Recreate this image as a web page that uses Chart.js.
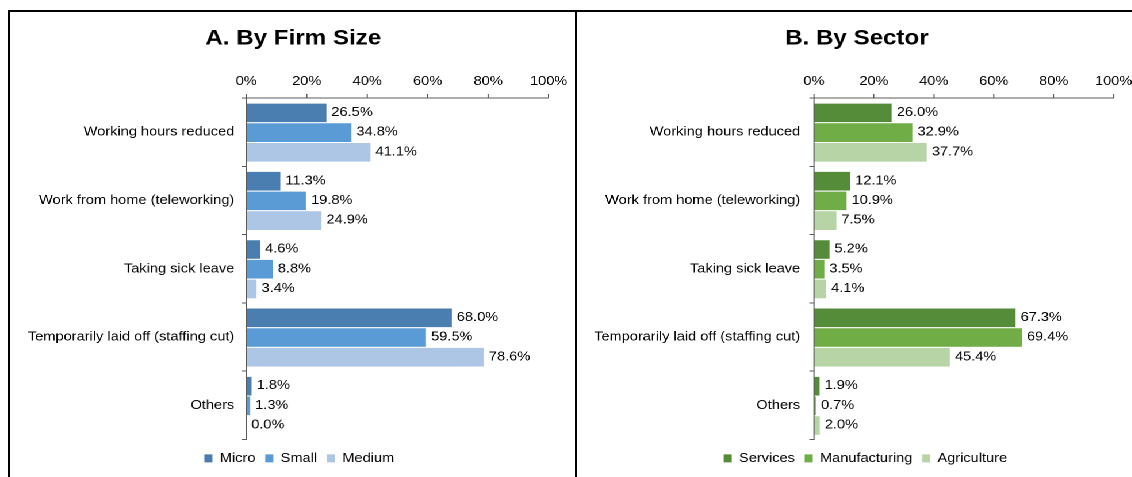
<!DOCTYPE html>
<html><head><meta charset="utf-8">
<script src="https://cdn.jsdelivr.net/npm/chart.js@4.4.0/dist/chart.umd.min.js"></script>
<style>
html,body{margin:0;padding:0;background:#fff;overflow:hidden;}
#stage{position:absolute;left:0;top:0;width:1132px;height:477px;background:#fff;overflow:hidden;}
#wrap{position:absolute;left:0;top:0;height:477px;transform-origin:0 0;}
.panel{position:absolute;top:0;height:477px;}
.line{position:absolute;background:#000;z-index:5;}
</style></head><body>
<div id="stage">
 <div id="wrap">
  <div class="panel" id="pA"><canvas id="cA"></canvas></div>
  <div class="panel" id="pB"><canvas id="cB"></canvas></div>
 </div>
 <div class="line" style="left:9px;top:10px;width:1123px;height:2px"></div>
 <div class="line" style="left:8px;top:10px;width:2px;height:467px"></div>
 <div class="line" style="left:575px;top:10px;width:2px;height:467px"></div>
</div>
<script>
// ---- data ----
const categories = ["Working hours reduced", "Work from home (teleworking)", "Taking sick leave", "Temporarily laid off (staffing cut)", "Others"];
const xTickValues = [0, 20, 40, 60, 80, 100];

const sizeSeriesNames = ["Micro", "Small", "Medium"];
const microValues  = [26.5, 11.3, 4.6, 68.0, 1.8];
const smallValues  = [34.8, 19.8, 8.8, 59.5, 1.3];
const mediumValues = [41.1, 24.9, 3.4, 78.6, 0.0];

const sectorSeriesNames = ["Services", "Manufacturing", "Agriculture"];
const servicesValues      = [26.0, 12.1, 5.2, 67.3, 1.9];
const manufacturingValues = [32.9, 10.9, 3.5, 69.4, 0.7];
const agricultureValues   = [37.7, 7.5, 4.1, 45.4, 2.0];

// ---- styling / layout ----
const SX = 1.15;                 // horizontal stretch of the reference
const FONT = 'Arial, "Liberation Sans", sans-serif';
const FS = 12.7;
const AXIS = '#5a5a5a';
const blueColors  = ['#4a7eb0', '#5b9bd5', '#adc6e6'];
const greenColors = ['#548c3a', '#70ad47', '#b6d4a6'];

const PANEL_B_W = 586;  // canvas B extends a little past the page edge (clipped)
document.getElementById('wrap').style.width = (1132 / SX) + 'px';
document.getElementById('wrap').style.transform = 'scaleX(' + SX + ')';
const pA = document.getElementById('pA');
pA.style.left = '0px'; pA.style.width = (576 / SX) + 'px';
const pB = document.getElementById('pB');
pB.style.left = (576 / SX) + 'px'; pB.style.width = (PANEL_B_W / SX) + 'px';

Chart.defaults.font.family = FONT;
Chart.defaults.font.size = FS;
Chart.defaults.color = '#000';

const valueLabels = {
  id: 'valueLabels',
  afterDatasetsDraw(chart) {
    const ctx = chart.ctx;
    ctx.save();
    ctx.font = FS + 'px ' + FONT;
    ctx.fillStyle = '#000';
    ctx.textBaseline = 'middle';
    ctx.textAlign = 'left';
    chart.data.datasets.forEach((ds, i) => {
      const meta = chart.getDatasetMeta(i);
      meta.data.forEach((bar, j) => {
        ctx.fillText(ds.data[j].toFixed(1) + '%', bar.x + 4.3, bar.y);
      });
    });
    ctx.restore();
  }
};

const shiftBoxes = {
  id: 'shiftBoxes',
  afterLayout(chart, args, opts) {
    const t = chart.titleBlock, l = chart.legend;
    if (t && opts.title) { t.left += opts.title; t.right += opts.title; }
    if (l) {
      if (opts.legend) { l.left += opts.legend; l.right += opts.legend; }
      if (opts.legendY) { l.top += opts.legendY; l.bottom += opts.legendY; }
    }
  }
};

function makeChart(canvasId, titleText, names, seriesValues, colors, g) {
  const datasets = names.map((n, i) => ({
    label: n,
    data: seriesValues[i],
    backgroundColor: colors[i],
    borderColor: '#ffffff',
    borderWidth: {top: 1, bottom: 0, left: 0, right: 0},
    borderSkipped: false,
    categoryPercentage: 0.865,
    barPercentage: 1.0
  }));
  return new Chart(document.getElementById(canvasId), {
    type: 'bar',
    data: { labels: categories, datasets },
    plugins: [valueLabels, shiftBoxes],
    options: {
      indexAxis: 'y',
      responsive: true,
      maintainAspectRatio: false,
      animation: false,
      devicePixelRatio: 2,
      layout: { padding: { left: 0, right: g.padRight / SX, top: 0, bottom: 6.26 } },
      plugins: {
        title: {
          display: true, text: titleText, color: '#000',
          font: { size: 21, weight: 'bold', family: FONT },
          padding: { top: 26, bottom: 0 }
        },
        legend: {
          position: 'bottom',
          labels: {
            boxWidth: 7, boxHeight: 8, padding: 8.5, color: '#000',
            font: { size: FS, family: FONT },
            generateLabels(chart) {
              return chart.data.datasets.map((ds, i) => ({
                text: ds.label, fillStyle: ds.backgroundColor, strokeStyle: ds.backgroundColor,
                lineWidth: 0, hidden: false, datasetIndex: i
              }));
            }
          }
        },
        tooltip: { enabled: false },
        shiftBoxes: { title: g.titleShift / SX, legend: g.legendShift / SX, legendY: 4 }
      },
      scales: {
        x: {
          type: 'linear', position: 'top', min: 0, max: 100,
          afterBuildTicks: s => { s.ticks = xTickValues.map(v => ({ value: v })); },
          afterFit: s => { s.height = 46.8; },
          ticks: { callback: v => v + '%', padding: 5, color: '#000', font: { size: FS }, maxRotation: 0 },
          grid: { drawOnChartArea: false, drawTicks: true, tickLength: 4, color: AXIS },
          border: { display: true, color: AXIS, width: 1 }
        },
        y: {
          type: 'category',
          afterFit: s => { s.width = g.areaLeft / SX; },
          ticks: { padding: g.yPad, color: '#000', font: { size: FS } },
          grid: { offset: true, drawOnChartArea: false, drawTicks: true, tickLength: 4, color: AXIS },
          border: { display: true, color: AXIS, width: 1 }
        }
      }
    }
  });
}

makeChart('cA', 'A. By Firm Size', sizeSeriesNames,
  [microValues, smallValues, mediumValues], blueColors,
  { areaLeft: 246, padRight: 576 - 548, titleShift: 19, legendShift: 25, yPad: 6.4 });

makeChart('cB', 'B. By Sector', sectorSeriesNames,
  [servicesValues, manufacturingValues, agricultureValues], greenColors,
  { areaLeft: 238, padRight: PANEL_B_W - 538, titleShift: 12, legendShift: 20.5, yPad: 8 });
</script>
</body></html>
